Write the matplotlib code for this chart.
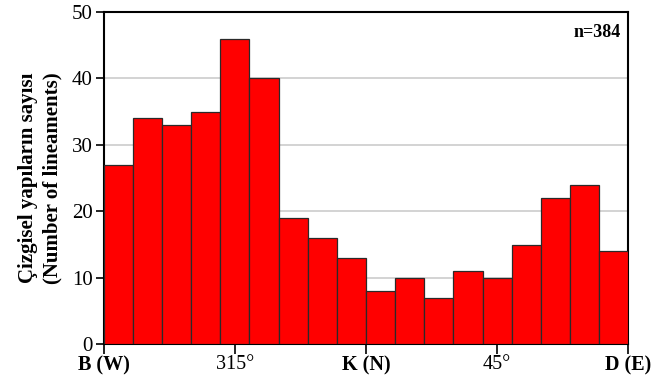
import numpy as np
import matplotlib
matplotlib.use("Agg")
from matplotlib import pyplot as plt

# lineament counts per 10 degree bin, from W (270) through N to E (90)
counts = [27, 34, 33, 35, 46, 40, 19, 16, 13, 8, 10, 7, 11, 10, 15, 22, 24, 14]
bin_edges = list(range(-90, 91, 10))
tick_pos = [-90, -45, 0, 45, 90]
tick_labels = ["B (W)", "315°", "K (N)", "45°", "D (E)"]
bold_ticks = [True, False, True, False, True]
n_total = sum(counts)

plt.rcParams['font.family'] = ['Liberation Serif', 'DejaVu Serif']

fig = plt.figure(figsize=(6.53, 3.88), dpi=100)
ax = fig.add_axes([0.159, 0.113, 0.803, 0.856])

lefts = bin_edges[:-1]
ax.bar(lefts, counts, width=10, align='edge', color='#ff0000',
       edgecolor='#2a2a2a', linewidth=0.9, zorder=3)

ax.set_xlim(-90, 90)
ax.set_ylim(0, 50)
ax.set_yticks([0, 10, 20, 30, 40, 50])
ax.yaxis.grid(True, color='#cccccc', linewidth=1.2, zorder=0)
ax.set_axisbelow(True)

ax.set_xticks(tick_pos)
ax.set_xticklabels(tick_labels)
for lbl, b in zip(ax.get_xticklabels(), bold_ticks):
    lbl.set_fontweight('bold' if b else 'normal')
    lbl.set_fontsize(14.5)
ax.tick_params(axis='x', length=7, width=1.2, pad=1, direction='out')
ax.tick_params(axis='y', labelsize=15, length=6, width=1.2, pad=2, direction='out')

for s in ax.spines.values():
    s.set_linewidth(1.5)
    s.set_color('black')

ax.set_ylabel("Çizgisel yapıların sayısı\n(Number of lineaments)",
              fontsize=15, fontweight='bold', linespacing=1.25, labelpad=7)

ax.text(0.985, 0.965, "n=%d" % n_total, transform=ax.transAxes,
        ha='right', va='top', fontsize=13, fontweight='bold')

fig.savefig("out.png", dpi=100)
